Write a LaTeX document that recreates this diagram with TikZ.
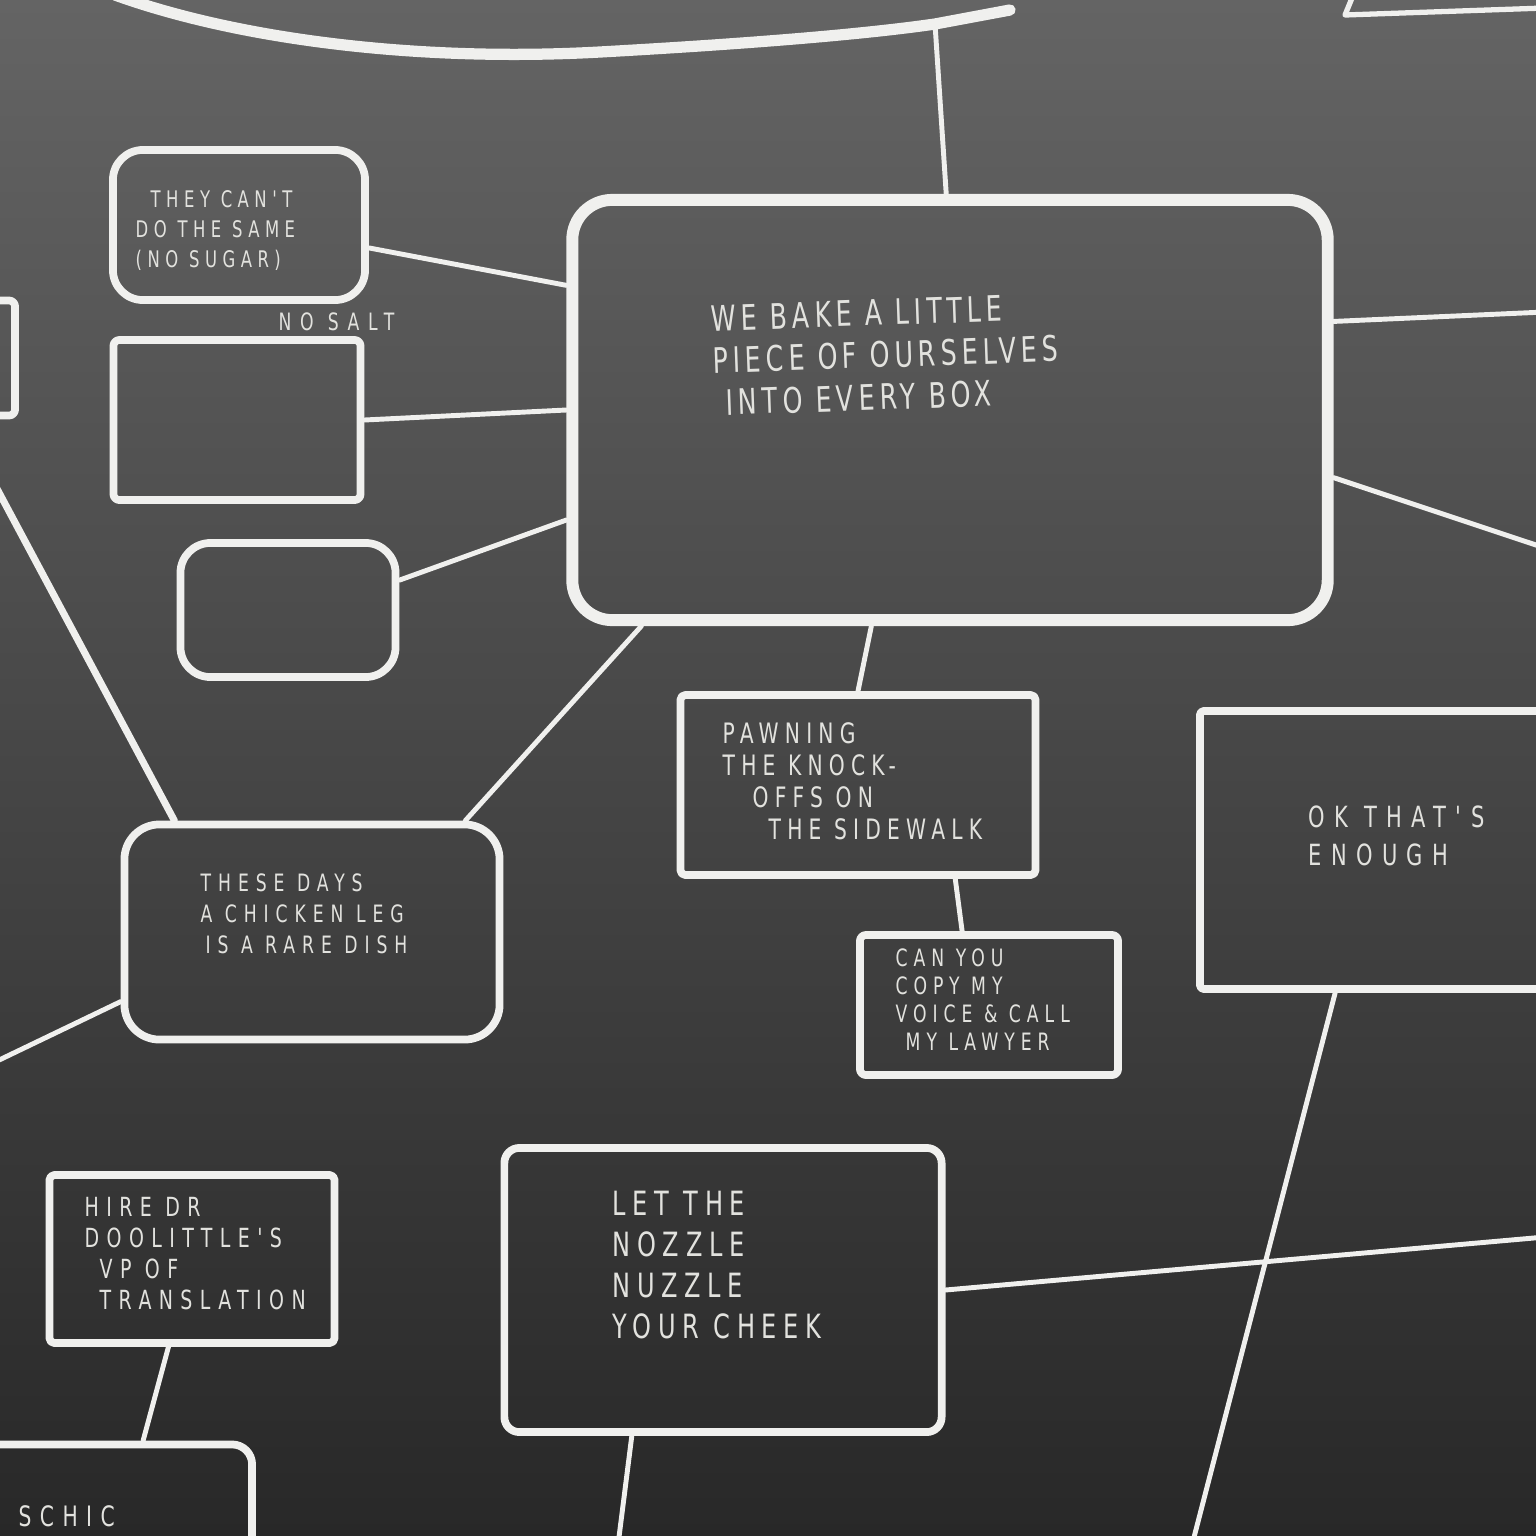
\documentclass[tikz,border=0pt]{standalone}
\usepackage{fontspec}
\newfontfamily\chalkfont[FakeStretch=0.72]{DejaVu Sans}
\usetikzlibrary{calc}
\definecolor{chalkline}{RGB}{240,240,238}
\definecolor{chalktext}{RGB}{226,226,222}
\definecolor{boardtop}{RGB}{100,100,100}
\definecolor{boardbot}{RGB}{40,40,40}
\newcommand\chalkat[3]{\chalkfont\addfontfeatures{LetterSpace=#1}\fontsize{#2}{#3}\selectfont}
\tikzset{
  chalk/.style={draw=chalkline, line width=1.5pt, line cap=round, line join=round},
  chalkbox/.style={chalk, line width=2.2pt, inner sep=0pt},
  chalknote/.style={text=chalktext, align=left, anchor=north west, inner sep=0pt},
  link/.style={chalk, line width=1.4pt},
}

\begin{document}
\begin{tikzpicture}[x=0.01cm,y=-0.01cm]
% the board
\shade[top color=boardtop, bottom color=boardbot] (0,0) rectangle (1536,1536);
\useasboundingbox (0,0) rectangle (1536,1536);
\clip (0,0) rectangle (1536,1536);

% the boxes
\node [chalkbox, line width=3.4pt, rounded corners=0.4cm, minimum width=7.55cm, minimum height=4.2cm] (main) at (950,410) {};
\node [chalkbox, rounded corners=0.3cm, minimum width=2.52cm, minimum height=1.5cm] (they) at (239,225) {};
\node [chalkbox, rounded corners=0.06cm, minimum width=2.47cm, minimum height=1.6cm] (salt) at (237,420) {};
\node [chalkbox, rounded corners=0.3cm, minimum width=2.15cm, minimum height=1.34cm] (small) at (288,610) {};
\node [chalkbox, rounded corners=0.06cm, minimum width=1.9cm, minimum height=1.15cm] (leftbox) at (-80,358) {};
\node [chalkbox, rounded corners=0.35cm, minimum width=3.75cm, minimum height=2.15cm] (chicken) at (312,932) {};
\node [chalkbox, rounded corners=0.05cm, minimum width=3.55cm, minimum height=1.8cm] (pawning) at (858,785) {};
\node [chalkbox, rounded corners=0.06cm, minimum width=2.58cm, minimum height=1.4cm] (canyou) at (989,1005) {};
\node [chalkbox, rounded corners=0.04cm, minimum width=3.8cm, minimum height=2.78cm] (ok) at (1390,850) {};
\node [chalkbox, rounded corners=0.15cm, minimum width=4.37cm, minimum height=2.84cm] (nozzle) at (723,1290) {};
\node [chalkbox, rounded corners=0.05cm, minimum width=2.85cm, minimum height=1.68cm] (hire) at (192,1259) {};
\node [chalkbox, rounded corners=0.2cm, minimum width=3.82cm, minimum height=2.55cm] (schic) at (61,1572) {};

% the texts
\node [chalknote, rotate=2, font=\chalkat{14}{10}{12}] (mainT) at (710,305)
  {WE BAKE A LITTLE\\PIECE OF OURSELVES\\\hspace*{0.12cm}INTO EVERY BOX};
\node [chalknote, font=\chalkat{24}{6.5}{8.5}] (theyT) at (135,190)
  {\hspace*{0.15cm}THEY CAN'T\\DO THE SAME\\(NO SUGAR)};
\node [chalknote, font=\chalkat{36}{6.8}{6.8}] (saltT) at (278,312) {NO SALT};
\node [chalknote, font=\chalkat{29}{6.8}{8.8}] (chickenT) at (200,873)
  {THESE DAYS\\A CHICKEN LEG\\\hspace*{0.05cm}IS A RARE DISH};
\node [chalknote, font=\chalkat{22}{8}{9.1}] (pawningT) at (722,722)
  {PAWNING\\THE KNOCK-\\\hspace*{0.3cm}OFFS ON\\\hspace*{0.46cm}THE SIDEWALK};
\node [chalknote, font=\chalkat{25}{6.8}{8}] (canyouT) at (895,948)
  {CAN YOU\\COPY MY\\VOICE \& CALL\\\hspace*{0.1cm}MY LAWYER};
\node [chalknote, font=\chalkat{32}{8.3}{10.8}] (okT) at (1308,805)
  {OK THAT'S\\ENOUGH};
\node [chalknote, font=\chalkat{20}{9.5}{11.7}] (nozzleT) at (612,1190)
  {LET THE\\NOZZLE\\NUZZLE\\YOUR CHEEK};
\node [chalknote, font=\chalkat{28}{7.5}{8.8}] (hireT) at (84,1197)
  {HIRE DR\\DOOLITTLE'S\\\hspace*{0.15cm}VP OF\\\hspace*{0.15cm}TRANSLATION};
\node [chalknote, font=\chalkat{30}{8}{8}] (schicT) at (18,1505) {SCHIC};

% loose ends at the edges
\coordinate (topC) at (935,24);
\coordinate (rightA) at (1545,312);
\coordinate (rightB) at (1545,548);
\coordinate (rightC) at (1545,1237);
\coordinate (leftA) at (-5,1062);
\coordinate (leftB) at (-5,485);
\coordinate (botA) at (618,1545);
\coordinate (botB) at (1192,1545);
\coordinate (okC) at (1545,1008);

% the top box edge
\draw [chalk, line width=3.2pt] (115,-5) .. controls (240,40) and (420,62) .. (600,52)
  .. controls (780,42) and (880,32) .. (topC) -- (1010,10);
\draw [chalk] (1352,-2) -- (1345,15) -- (1545,8);

% the connectors
\draw [link] (main.91) -- (topC);
\draw [link] (they.-10) -- (main.162);
\draw [link] (salt.east) -- (main.west);
\draw [link] (small.15) -- (main.196);
\draw [link] (chicken.36) -- (main.215);
\draw [link] (main.250) -- (pawning.north);
\draw [link] (pawning.-44) -- (canyou.110);
\draw [link] (main.13) -- (rightA);
\draw [link] (main.-10) -- (rightB);
\draw [link] (chicken.200) -- (leftA);
\draw [link, line width=2pt] (chicken.141) -- (leftB);
\draw [link] (hire.255) -- (schic.58);
\draw [link] (nozzle.238) -- (botA);
\draw [link] (nozzle.east) -- (rightC);
\draw [link] (ok.249) -- (botB);
\draw [link] (ok.-26) -- (okC);
\end{tikzpicture}
\end{document}
